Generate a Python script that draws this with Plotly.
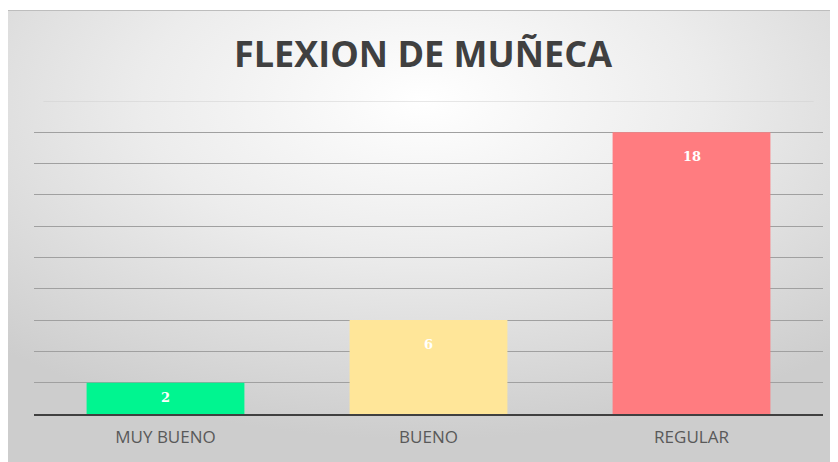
import base64
import plotly.graph_objects as go

categories = ["MUY BUENO", "BUENO", "REGULAR"]
values = [2, 6, 18]
bar_colors = ["#00F590", "#FFE699", "#FF7C80"]
title_text = "FLEXION DE MUÑECA"

# page body has an 8px margin, so the figure is 8px smaller than the window
W, H = 830, 454
L, R, T, B = 26, 15, 93, 48
PW, PH = W - L - R, H - T - B
YMAX = 20

svg = """<svg xmlns='http://www.w3.org/2000/svg' width='830' height='452' viewBox='0 0 830 452' preserveAspectRatio='none'>
<defs><radialGradient id='g' cx='0.5' cy='0.2' r='0.75'>
<stop offset='0' stop-color='#ffffff'/>
<stop offset='0.45' stop-color='#ececec'/>
<stop offset='1' stop-color='#cdcdcd'/>
</radialGradient></defs>
<rect width='830' height='452' fill='url(#g)'/>
<line x1='0' y1='0.5' x2='830' y2='0.5' stroke='#bdbdbd' stroke-width='1'/>
</svg>"""
src = "data:image/svg+xml;base64," + base64.b64encode(svg.encode()).decode()

fig = go.Figure(go.Bar(
    x=categories, y=values,
    marker=dict(color=bar_colors, line=dict(width=0)),
    width=0.6,
    hoverinfo="x+y",
))

px_per_unit = PH / YMAX
annotations = []
for c, v in zip(categories, values):
    shift = min(15, v * px_per_unit / 2 - 10)
    annotations.append(dict(
        x=c, y=v, xref="x", yref="y", text="<b>%d</b>" % v, showarrow=False,
        yanchor="top", yshift=-shift,
        font=dict(family="DejaVu Serif", size=13, color="white"),
    ))

fig.update_layout(
    width=W, height=H,
    paper_bgcolor="white",
    plot_bgcolor="rgba(0,0,0,0)",
    margin=dict(l=L, r=R, t=T, b=B),
    showlegend=False,
    title=dict(text="<b>" + title_text + "</b>", x=0.5, xanchor="center",
               y=1 - 46 / H, yanchor="middle",
               font=dict(family="Open Sans", size=36, color="#404040")),
    images=[dict(source=src, xref="paper", yref="paper",
                 x=-L / PW, y=1 + (T - 2) / PH, sizex=W / PW, sizey=(H - 2) / PH,
                 xanchor="left", yanchor="top", sizing="stretch", layer="below")],
    shapes=[dict(type="line", xref="paper", yref="y", x0=0.012, x1=0.988,
                 y0=YMAX, y1=YMAX, line=dict(color="#cfcfcf", width=1), layer="below")],
    xaxis=dict(showline=True, linecolor="#404040", linewidth=2,
               tickfont=dict(family="Open Sans", size=17, color="#595959"),
               ticks="outside", ticklen=7, tickcolor="rgba(0,0,0,0)", showgrid=False),
    yaxis=dict(range=[0, YMAX], dtick=2, showticklabels=False, showline=False,
               showgrid=True, gridcolor="#a0a0a0", gridwidth=1, zeroline=False,
               ticks=""),
    annotations=annotations,
)
fig.write_html("out.html")
